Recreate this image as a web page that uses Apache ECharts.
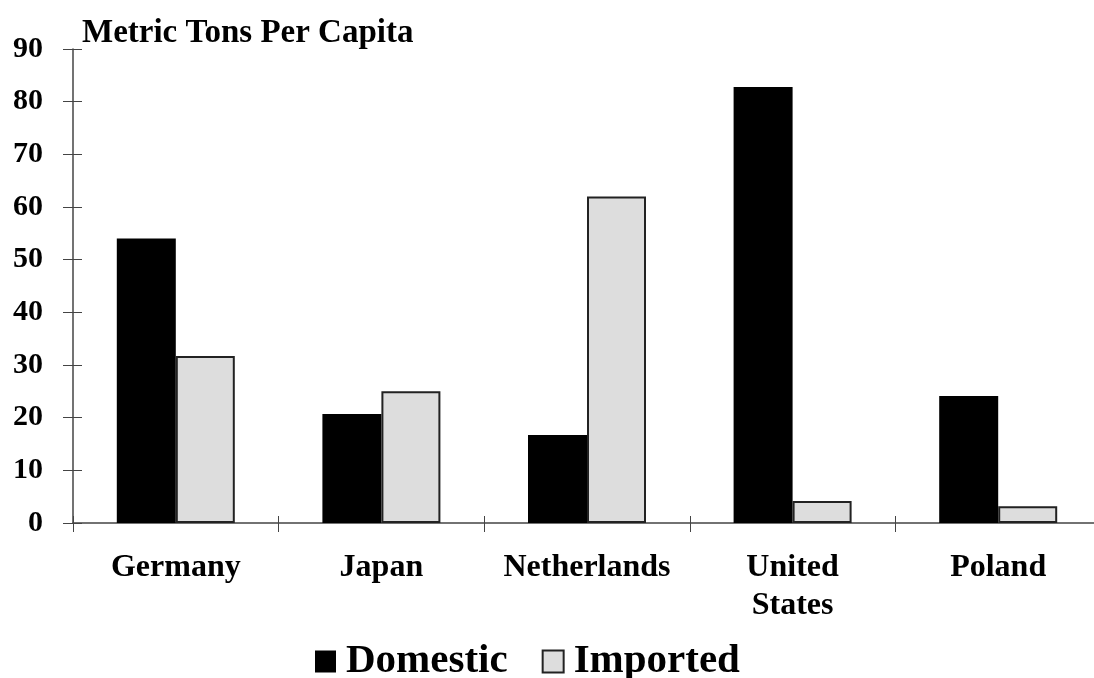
<!DOCTYPE html>
<html>
<head>
<meta charset="utf-8">
<script src="https://cdn.jsdelivr.net/npm/echarts@6/dist/echarts.min.js"></script>
<style>html,body{margin:0;padding:0;background:#fff;overflow:hidden;width:1094px;height:678px;}#c{width:1101px;height:678px;}</style>
</head>
<body>
<div id="c"></div>
<script>
const categories = ['Germany', 'Japan', 'Netherlands', 'United\nStates', 'Poland'];
const domestic = [54, 20.7, 16.7, 82.8, 24.1];
const imported = [31.7, 25, 62, 4.2, 3.2];
const yTicks = [0, 10, 20, 30, 40, 50, 60, 70, 80, 90];

const FONT = "'Liberation Serif', 'Times New Roman', serif";
const chart = echarts.init(document.getElementById('c'), null, {renderer: 'canvas'});
chart.setOption({
  animation: false,
  backgroundColor: '#ffffff',
  title: {
    text: 'Metric Tons Per Capita',
    left: 77, top: 12,
    textStyle: {fontFamily: FONT, fontWeight: 'bold', fontSize: 33, color: '#000'}
  },
  legend: {
    bottom: -9, left: 310,
    icon: 'rect',
    itemWidth: 21, itemHeight: 22, itemGap: 34,
    textStyle: {fontFamily: FONT, fontWeight: 'bold', fontSize: 41, color: '#000', padding: [0, 0, 0, 5]},
    data: ['Domestic', 'Imported']
  },
  grid: {left: 73, right: 0, top: 49, height: 474, containLabel: false},
  xAxis: [{
    type: 'category', data: categories,
    axisLine: {show: true, lineStyle: {color: '#444', width: 1.5}},
    axisTick: {show: true, length: 9, interval: 0, lineStyle: {color: '#444'}},
    axisLabel: {interval: 0, fontFamily: FONT, fontWeight: 'bold', fontSize: 32, color: '#000', margin: 26, lineHeight: 38}
  }, {
    type: 'category', data: categories, position: 'bottom',
    axisLine: {show: false},
    axisTick: {show: true, inside: true, interval: 0, length: 7, lineStyle: {color: '#444'}},
    axisLabel: {show: false}
  }],
  yAxis: [{
    type: 'value', min: 0, max: 90, interval: 10,
    axisLine: {show: true, lineStyle: {color: '#444', width: 1.5}},
    axisTick: {show: true, length: 10, lineStyle: {color: '#444'}},
    splitLine: {show: false},
    axisLabel: {fontFamily: FONT, fontWeight: 'bold', fontSize: 30, color: '#000', margin: 30,
      formatter: v => yTicks.includes(v) ? String(v) : ''}
  }, {
    type: 'value', min: 0, max: 90, interval: 10, position: 'left',
    axisLine: {show: false},
    axisTick: {show: true, inside: true, length: 9, lineStyle: {color: '#444'}},
    splitLine: {show: false},
    axisLabel: {show: false}
  }],
  series: [{
    name: 'Domestic', type: 'bar', data: domestic,
    barWidth: 59, barGap: '0%',
    itemStyle: {color: '#000000'}
  }, {
    name: 'Imported', type: 'bar', data: imported,
    barWidth: 59,
    itemStyle: {color: '#dddddd', borderColor: '#222', borderWidth: 2}
  }]
});
</script>
</body>
</html>
